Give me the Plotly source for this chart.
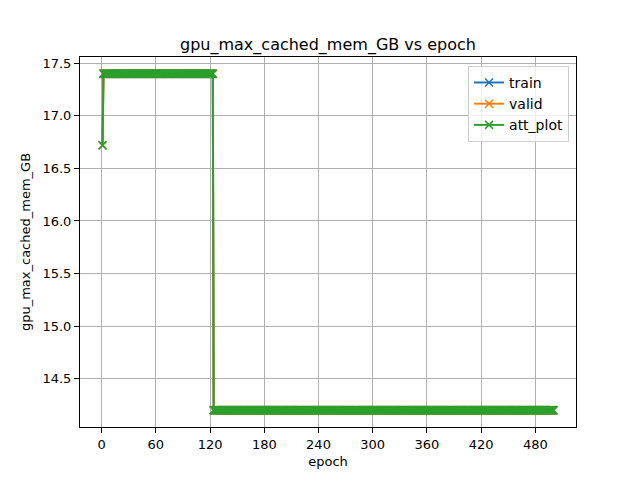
import plotly.graph_objects as go

# Data: run-length description of each series
series_names = ["train", "valid", "att_plot"]
series_colors = ["#1f77b4", "#ff7f0e", "#2ca02c"]
run_values = [16.72, 17.40, 14.20]   # GB
run_lengths = [1, 122, 377]          # number of epochs at each level
first_epoch = 1

values = []
for v, n in zip(run_values, run_lengths):
    values += [v] * n
epochs = list(range(first_epoch, first_epoch + len(values)))

x_ticks = [0, 60, 120, 180, 240, 300, 360, 420, 480]
y_ticks = [14.5, 15.0, 15.5, 16.0, 16.5, 17.0, 17.5]

fig = go.Figure()
for name, color in zip(series_names, series_colors):
    fig.add_trace(go.Scatter(
        x=epochs, y=values, name=name, mode="lines+markers",
        line=dict(color=color, width=2),
        marker=dict(symbol="x-thin", size=8, line=dict(color=color, width=1.5), color=color),
    ))

span_x = epochs[-1] - epochs[0]
ymin, ymax = min(values), max(values)
span_y = ymax - ymin

# page body has an 8px margin, so the figure is offset by 8px
font = "DejaVu Sans"
fig.update_layout(
    width=640, height=480,
    margin=dict(l=72, r=72, t=49, b=61),
    paper_bgcolor="white", plot_bgcolor="white",
    font=dict(family=font, size=13, color="black"),
    title=dict(text="gpu_max_cached_mem_GB vs epoch", x=(328 - 8) / 640, xanchor="center",
               y=1 - 36 / 480, yanchor="middle", font=dict(size=16)),
    showlegend=True,
    legend=dict(x=0.986, y=0.976, xanchor="right", yanchor="top",
                bgcolor="rgba(255,255,255,0.8)", bordercolor="#cccccc", borderwidth=1,
                font=dict(size=14), tracegroupgap=0),
)
fig.update_xaxes(
    range=[epochs[0] - 0.05 * span_x, epochs[-1] + 0.05 * span_x],
    tickvals=x_ticks, ticks="outside", ticklen=5, tickcolor="black",
    tickfont=dict(size=13),
    showgrid=True, gridcolor="#b0b0b0", gridwidth=0.8, automargin=False,
    showline=True, linecolor="black", linewidth=1, mirror=True, zeroline=False,
    title=dict(text="epoch", standoff=6, font=dict(size=13)),
)
fig.update_yaxes(
    range=[ymin - 0.05 * span_y, ymax + 0.05 * span_y],
    tickvals=y_ticks, tickformat=".1f", ticks="outside", ticklen=5, tickcolor="black",
    tickfont=dict(size=13),
    showgrid=True, gridcolor="#b0b0b0", gridwidth=0.8, automargin=False,
    showline=True, linecolor="black", linewidth=1, mirror=True, zeroline=False,
    title=dict(text="gpu_max_cached_mem_GB", standoff=8, font=dict(size=13)),
)
fig.write_html("out.html")
